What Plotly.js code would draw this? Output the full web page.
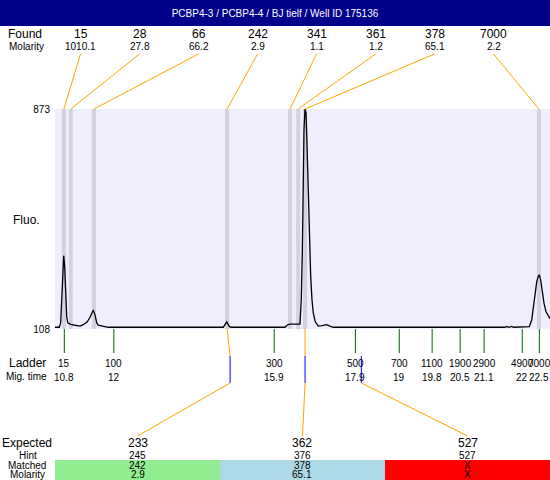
<!DOCTYPE html>
<html><head><meta charset="utf-8">
<script src="https://cdn.plot.ly/plotly-3.0.1.min.js"></script>
<style>html,body{margin:0;padding:0;background:#fff;}</style>
</head><body>
<div id="chart" style="width:550px;height:480px;"></div>
<script>
// ---------- data ----------
const traceTime = [10.571,10.677,10.711,10.743,10.768,10.785,10.810,10.834,10.859,10.884,10.940,11.064,11.187,11.268,11.366,11.433,11.482,11.514,11.556,11.598,11.637,11.761,11.884,12.911,13.847,13.896,13.945,14.716,14.800,14.864,14.906,16.236,16.293,16.359,16.605,16.637,16.662,16.687,16.704,16.729,16.754,16.770,16.803,16.834,16.869,16.901,16.933,16.982,17.056,17.147,17.263,17.344,17.426,21.655,21.697,21.741,21.820,21.864,22.253,22.312,22.352,22.394,22.436,22.475,22.500,22.534,22.574,22.616,22.665,22.731,22.763];
const traceFluo = [114,114,130,255,348,363,325,233,151,130,125,121,118,123,133,149,168,174,157,130,121,118,114,114,114,111.5,114,114,133,117,114,114,122,125,125,209,372,672,800,873,859,789,626,442,290,209,163,133,118,120,123,118,114,114,117,114,117,114,116,139,185,238,272,292,296,278,232,197,168,151,144];

const foundSize = ['15','28','66','242','341','361','378','7000'];
const foundMolarity = ['1010.1','27.8','66.2','2.9','1.1','1.2','65.1','2.2'];
const foundTime = [10.79,10.96,11.53,14.81,16.36,16.56,16.73,22.49];

const ladderSize = [15,100,300,500,700,1100,1900,2900,4900,7000];
const ladderTime = [10.8,12.02,15.97,17.97,19.05,19.86,20.55,21.14,22.08,22.5];
const ladderTimeLabel = ['10.8','12','15.9','17.9','19','19.8','20.5','21.1','22','22.5'];

const expectedSize = ['233','362','527'];
const hintSize = [245,376,527];
const matchedSize = ['242','378','X'];
const matchedMolarity = ['2.9','65.1','X'];
const matchedFoundIndex = [3,6,null];
const matchColor = ['#90EE90','#ADD8E6','#FF0000'];

const fluoRange = [108,873];
const timeRange = [10.571,22.763];
const titleText = 'PCBP4-3 / PCBP4-4 / BJ tielf / Well ID 175136';

// ---------- layout helpers ----------
const W = 550, H = 480;
const py = p => 1 - p / H;      // pixel row -> paper y
const pxp = p => p / W;         // pixel col -> paper x
const FONT = '"Liberation Sans", Arial, sans-serif';
const ORANGE = '#FFA500', BLUE = '#0000FF', GREEN = '#006400';
const BAND = '#D3D3E0', BG = '#EEEEFC', NAVY = '#00008B';

function sizeToTime(s) {
  for (let i = 0; i < ladderSize.length - 1; i++) {
    if (s >= ladderSize[i] && s <= ladderSize[i+1]) {
      return ladderTime[i] + (s - ladderSize[i]) / (ladderSize[i+1] - ladderSize[i]) * (ladderTime[i+1] - ladderTime[i]);
    }
  }
  return ladderTime[ladderTime.length-1];
}
const foundColX = i => pxp(80.5 + 59 * i);
const expColX = j => 0.1 + 0.3 * (j + 0.5);

const shapes = [];
// title bar
shapes.push({type:'rect', xref:'paper', yref:'paper', x0:0, x1:1, y0:py(26), y1:1, fillcolor:NAVY, line:{width:0}});
// found bands
foundTime.forEach(t => shapes.push({type:'rect', xref:'x', yref:'paper', x0:t-0.05, x1:t+0.05, y0:py(329), y1:py(109), fillcolor:BAND, line:{width:0}, layer:'below'}));
// ladder ticks
ladderTime.forEach(t => shapes.push({type:'line', xref:'x', yref:'paper', x0:t, x1:t, y0:py(329), y1:py(353), line:{color:GREEN, width:1}}));
// match bars
matchColor.forEach((c, j) => shapes.push({type:'rect', xref:'paper', yref:'paper', x0:0.1+0.3*j, x1:0.1+0.3*(j+1), y0:0, y1:py(460), fillcolor:c, line:{width:0}, layer:'below'}));

const ann = [];
const txt = (x, y, text, size, xref) => ann.push({xref: xref || 'paper', yref:'paper', x, y, text: String(text), showarrow:false, xanchor:'center', yanchor:'middle', borderpad:0, font:{family:FONT, size, color:'#000'}});
txt(pxp(25), py(34), 'Found', 12);
txt(pxp(26), py(46), 'Molarity', 10);
foundSize.forEach((s,i) => { txt(foundColX(i), py(34), s, 12); txt(foundColX(i), py(46.5), foundMolarity[i], 10); });
txt(pxp(26), py(220), 'Fluo.', 12);
txt(pxp(27), py(363), 'Ladder', 12);
txt(pxp(26.5), py(376.5), 'Mig. time', 10);
ladderSize.forEach((s,i) => { txt(ladderTime[i], py(363), s, 10, 'x'); txt(ladderTime[i], py(377), ladderTimeLabel[i], 10, 'x'); });
txt(pxp(27), py(443), 'Expected', 12);
txt(pxp(28), py(455), 'Hint', 10);
txt(pxp(27), py(465.5), 'Matched', 10);
txt(pxp(27), py(474.5), 'Molarity', 10);
expectedSize.forEach((s,j) => {
  txt(expColX(j), py(443), s, 12);
  txt(expColX(j), py(455), hintSize[j], 10);
  txt(expColX(j), py(465.5), matchedSize[j], 10);
  txt(expColX(j), py(474.5), matchedMolarity[j], 10);
});

const data = [{
  type:'scatter', mode:'lines', x: traceTime, y: traceFluo,
  line:{color:'#000', width:1.3}, hoverinfo:'skip', showlegend:false
}];

const layout = {
  width: W, height: H,
  margin:{l:0, r:0, t:0, b:0, pad:0},
  paper_bgcolor:'#fff', plot_bgcolor: BG,
  showlegend:false,
  title:{text: titleText, x:0.5, xanchor:'center', y: 1 - 13.5/H, yanchor:'middle', font:{family:FONT, size:10, color:'#fff'}},
  xaxis:{domain:[0.1,1], range: timeRange, showticklabels:false, ticks:'', showgrid:false, zeroline:false, showline:false, fixedrange:true},
  yaxis:{domain:[py(329), py(109)], range: fluoRange, tickvals: fluoRange, ticktext: fluoRange.map(String), ticks:'', ticklabelstandoff:4, tickfont:{family:FONT, size:10, color:'#000'}, showgrid:false, zeroline:false, showline:false, fixedrange:true},
  shapes: shapes,
  annotations: ann
};

const gd = document.getElementById('chart');
Plotly.newPlot(gd, data, layout, {staticPlot:true, displayModeBar:false}).then(() => {
  const xa = gd._fullLayout.xaxis;
  const px = t => (xa._offset + xa.l2p(t)) / W;
  const extra = [];
  // top connectors: found label -> band
  foundTime.forEach((t, i) => extra.push({type:'line', xref:'paper', yref:'paper', x0:foundColX(i), y0:py(54), x1:px(t), y1:py(109), line:{color:ORANGE, width:1}}));
  // bottom connectors
  hintSize.forEach((h, j) => {
    const ht = sizeToTime(h);
    const k = matchedFoundIndex[j];
    if (k !== null) extra.push({type:'line', xref:'paper', yref:'paper', x0:px(foundTime[k]), y0:py(329), x1:px(ht), y1:py(356), line:{color:ORANGE, width:1}});
    extra.push({type:'line', xref:'paper', yref:'paper', x0:px(ht), y0:py(356), x1:px(ht), y1:py(383), line:{color:BLUE, width:1}});
    extra.push({type:'line', xref:'paper', yref:'paper', x0:px(ht), y0:py(383), x1:expColX(j), y1:py(436), line:{color:ORANGE, width:1}});
  });
  return Plotly.relayout(gd, {shapes: shapes.concat(extra)});
});
</script>
</body></html>
